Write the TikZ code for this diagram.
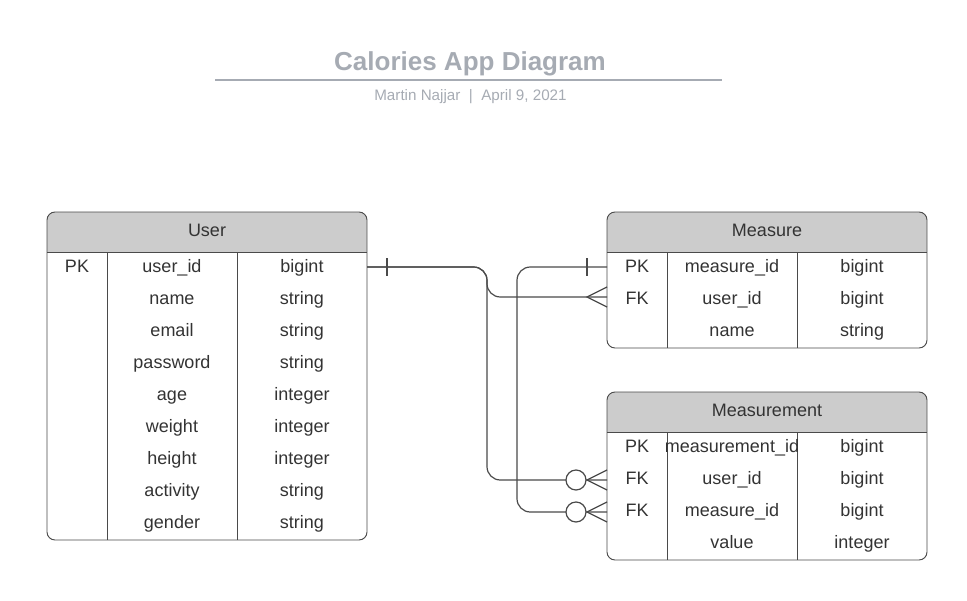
\documentclass[tikz,border=0pt]{standalone}
\usepackage{fontspec}
\setmainfont{Liberation Sans}
\definecolor{titlegray}{HTML}{A6ABB3}
\definecolor{hdrfill}{HTML}{CCCCCC}
\definecolor{linegray}{HTML}{4A4A4A}
\definecolor{txt}{HTML}{333333}
\begin{document}
\begin{tikzpicture}[x=0.75pt,y=-0.75pt,
  cell/.style={anchor=base,inner sep=0pt,text=txt,font=\fontsize{13.5}{15}\selectfont},
  tbl/.style={draw=linegray,line width=0.7pt},
  conn/.style={draw=linegray,line width=0.9pt,rounded corners=10},
  endmark/.style={draw=linegray,line width=0.9pt},
  ring/.style={draw=linegray,line width=0.9pt,fill=white}]
\useasboundingbox (0,0) rectangle (967,600);

% title
\node[anchor=base,inner sep=0pt,text=titlegray,font=\fontsize{19.5}{22}\selectfont\bfseries] (title) at (470,70) {Calories App Diagram};
\draw[titlegray,line width=1.4pt] (215,80) -- (722,80);
\node[anchor=base,inner sep=0pt,text=titlegray,font=\fontsize{11.4}{13}\selectfont] (subtitle) at (470.5,100) {Martin Najjar~~|~~April 9, 2021};

% ---------- User table
\begin{scope}
\clip[rounded corners=6] (47,212) rectangle (367,540);
\fill[hdrfill] (47,212) rectangle (367,252);
\end{scope}
\draw[tbl,rounded corners=6] (47,212) rectangle (367,540);
\draw[tbl] (47,252) -- (367,252);
\draw[tbl] (107,252) -- (107,540);
\draw[tbl] (237,252) -- (237,540);
\node[cell] (userhdr) at (207,236) {User};
\foreach \k/\a/\b/\c in {0/PK/user\_id/bigint,1//name/string,2//email/string,3//password/string,4//age/integer,5//weight/integer,6//height/integer,7//activity/string,8//gender/string}{
  \node[cell] (u\k a) at (77,272.3+32*\k) {\a};
  \node[cell] (u\k b) at (172,272.3+32*\k) {\b};
  \node[cell] (u\k c) at (302,272.3+32*\k) {\c};
}

% ---------- Measure table
\begin{scope}
\clip[rounded corners=6] (607,212) rectangle (927,348);
\fill[hdrfill] (607,212) rectangle (927,252);
\end{scope}
\draw[tbl,rounded corners=6] (607,212) rectangle (927,348);
\draw[tbl] (607,252) -- (927,252);
\draw[tbl] (667,252) -- (667,348);
\draw[tbl] (797,252) -- (797,348);
\node[cell] (measurehdr) at (767,236) {Measure};
\foreach \k/\a/\b/\c in {0/PK/measure\_id/bigint,1/FK/user\_id/bigint,2//name/string}{
  \node[cell] (m\k a) at (637,272.3+32*\k) {\a};
  \node[cell] (m\k b) at (732,272.3+32*\k) {\b};
  \node[cell] (m\k c) at (862,272.3+32*\k) {\c};
}

% ---------- Measurement table
\begin{scope}
\clip[rounded corners=6] (607,392) rectangle (927,560);
\fill[hdrfill] (607,392) rectangle (927,432);
\end{scope}
\draw[tbl,rounded corners=6] (607,392) rectangle (927,560);
\draw[tbl] (607,432) -- (927,432);
\draw[tbl] (667,432) -- (667,560);
\draw[tbl] (797,432) -- (797,560);
\node[cell] (measurementhdr) at (767,416) {Measurement};
\foreach \k/\a/\b/\c in {0/PK/measurement\_id/bigint,1/FK/user\_id/bigint,2/FK/measure\_id/bigint,3//value/integer}{
  \node[cell] (x\k a) at (637,452.3+32*\k) {\a};
  \node[cell] (x\k b) at (732,452.3+32*\k) {\b};
  \node[cell] (x\k c) at (862,452.3+32*\k) {\c};
}

% ---------- connector ends
\coordinate (uid) at (367,267);
\coordinate (mpk) at (607,267);
\coordinate (mfk) at (607,297);
\coordinate (xu) at (607,480);
\coordinate (xm) at (607,512);
\coordinate (b1) at (487,297);
\coordinate (b2) at (487,480);
\coordinate (b3) at (517,512);

% connectors
\draw[conn] (uid) -| (b1) -- (mfk);
\draw[conn] (uid) -| (b2) -- (xu);
\draw[conn] (mpk) -| (b3) -- (xm);

% one bars
\draw[endmark] (387,258) -- (387,276);
\draw[endmark] (587,258) -- (587,276);
% crow's feet
\draw[endmark] (607,287) -- (587,297) -- (607,307);
\draw[endmark] (607,470) -- (587,480) -- (607,490);
\draw[endmark] (607,502) -- (587,512) -- (607,522);
% zero rings
\node[ring,circle,minimum size=20*0.75pt,inner sep=0pt] (ru) at (576,480) {};
\node[ring,circle,minimum size=20*0.75pt,inner sep=0pt] (rm) at (576,512) {};
\end{tikzpicture}
\end{document}
